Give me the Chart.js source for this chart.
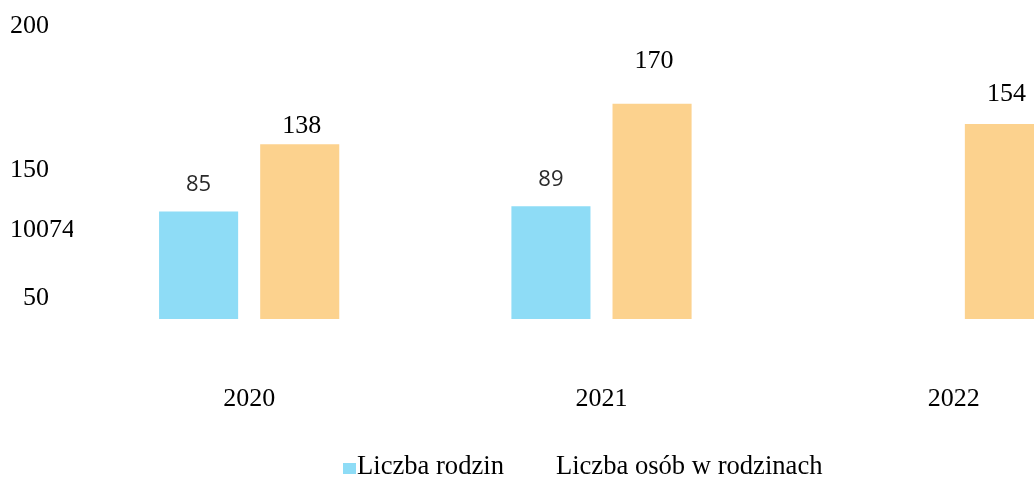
<!DOCTYPE html>
<html>
<head>
<meta charset="utf-8">
<script src="https://cdn.jsdelivr.net/npm/chart.js@4"></script>
<style>
  html, body { margin: 0; padding: 0; background: #fff; overflow: hidden; }
  #wrap { width: 1130px; height: 477px; }
</style>
</head>
<body>
<div id="wrap"><canvas id="chart" width="1130" height="477"></canvas></div>
<script>
// dane z wykresu
const lata = ['2020', '2021', '2022'];
const liczbaRodzin = [85, 89, null];
const liczbaOsob = [138, 170, 154];
// etykiety osi Y tak jak na obrazku (nierówne odstępy)
const etykietyY = ['200', '150', '10074', '  50'];
const wartosciY = [231.5, 117.5, 70, 16.5];

const SERIF = '"Liberation Serif", "Times New Roman", serif';

// etykiety wartości nad słupkami
const etykietyWartosci = {
  id: 'etykietyWartosci',
  afterDatasetsDraw(chart, args, opts) {
    const ctx = chart.ctx;
    chart.data.datasets.forEach((ds, i) => {
      const meta = chart.getDatasetMeta(i);
      const st = opts.styles[i];
      meta.data.forEach((bar, j) => {
        const v = ds.data[j];
        if (v === null || v === undefined) return;
        ctx.save();
        ctx.font = st.font;
        ctx.fillStyle = st.color;
        ctx.textAlign = 'center';
        ctx.textBaseline = 'middle';
        ctx.fillText(String(v), bar.x + st.dx, bar.y - st.lift[j]);
        ctx.restore();
      });
    });
  }
};

// legenda rysowana ręcznie (kwadrat przylega do tekstu)
const legenda = {
  id: 'legenda',
  afterDraw(chart, args, opts) {
    const ctx = chart.ctx;
    ctx.save();
    ctx.font = '26.6px ' + SERIF;
    ctx.fillStyle = '#000';
    ctx.textBaseline = 'alphabetic';
    let x = opts.x;
    chart.data.datasets.forEach((ds, i) => {
      const sw = opts.swatches[i];
      if (sw) {
        ctx.fillStyle = sw;
        ctx.fillRect(x, opts.y - 11, 13, 11);
      }
      x += 14;
      ctx.fillStyle = '#000';
      ctx.fillText(ds.label, x, opts.y);
      x += ctx.measureText(ds.label).width + opts.gap;
    });
    ctx.restore();
  }
};

new Chart(document.getElementById('chart'), {
  type: 'bar',
  data: {
    labels: lata,
    datasets: [
      {
        label: 'Liczba rodzin',
        data: liczbaRodzin,
        backgroundColor: '#8edcf6',
        categoryPercentage: 0.574,
        barPercentage: 0.782
      },
      {
        label: 'Liczba osób w rodzinach',
        data: liczbaOsob,
        backgroundColor: '#fcd28e',
        categoryPercentage: 0.574,
        barPercentage: 0.782
      }
    ]
  },
  options: {
    responsive: false,
    animation: false,
    layout: { padding: { left: 10, right: 0, top: 0, bottom: 0 } },
    scales: {
      x: {
        grid: { display: false },
        border: { display: false },
        ticks: {
          color: '#000',
          font: { family: SERIF, size: 26 },
          padding: 57
        },
        afterFit(scale) {
          scale.height = 158;
          scale.paddingLeft = 0;
          scale.paddingRight = 0;
        }
      },
      y: {
        min: 0,
        max: 252,
        grid: { display: false },
        border: { display: false },
        ticks: {
          color: '#000',
          font: { family: SERIF, size: 26 },
          crossAlign: 'far',
          padding: 0,
          autoSkip: false,
          callback: (v, i) => etykietyY[i]
        },
        afterBuildTicks(scale) {
          scale.ticks = wartosciY.map(v => ({ value: v }));
        },
        afterFit(scale) {
          scale.width = 63;
          scale.paddingTop = 0;
          scale.paddingBottom = 0;
        }
      }
    },
    plugins: {
      legend: { display: false },
      tooltip: { enabled: false },
      etykietyWartosci: {
        styles: [
          { font: '22px "Open Sans", "Noto Sans", sans-serif', color: '#2a2a2a', dx: 0, lift: [27, 27, 27] },
          { font: '26px ' + SERIF, color: '#000', dx: 2, lift: [18, 43, 30] }
        ]
      },
      legenda: { x: 343, y: 474, gap: 38, swatches: ['#8edcf6', null] }
    }
  },
  plugins: [etykietyWartosci, legenda]
});
</script>
</body>
</html>
